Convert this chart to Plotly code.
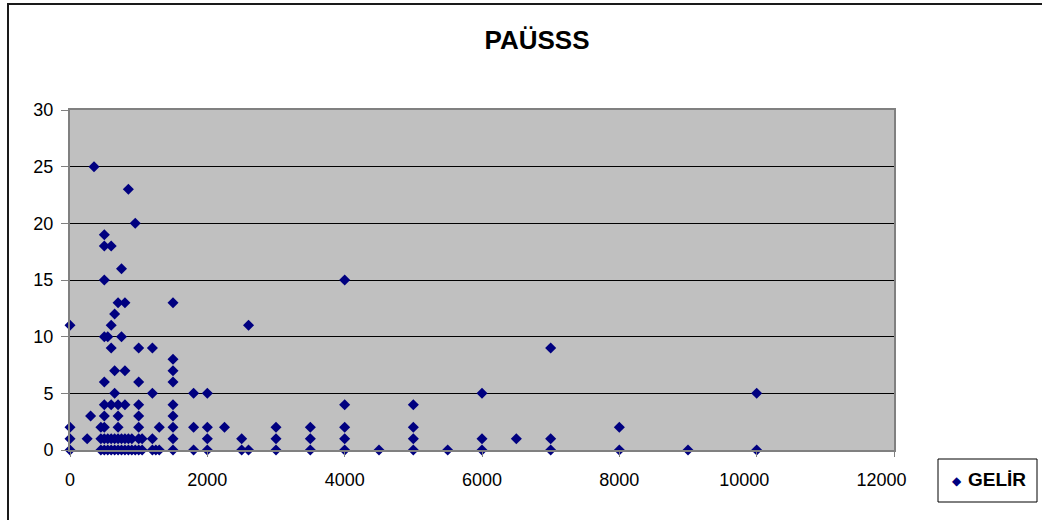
import plotly.graph_objects as go

# GELİR (x) vs PAÜSSS (y) values
gelir = [
    0, 0, 0, 0,
    250, 300, 350,
    450, 450, 450,
    500, 500, 500, 500, 500, 500, 500, 500, 500, 500,
    550, 550, 550,
    600, 600, 600, 600, 600, 600,
    650, 650, 650, 650, 650,
    700, 700, 700, 700, 700, 700,
    750, 750, 750, 750,
    800, 800, 800, 800, 800,
    850, 850, 850,
    900, 900,
    950, 950,
    1000, 1000, 1000, 1000, 1000, 1000, 1000,
    1050, 1050,
    1200, 1200, 1200, 1200,
    1250,
    1300, 1300,
    1500, 1500, 1500, 1500, 1500, 1500, 1500, 1500, 1500,
    1800, 1800, 1800,
    2000, 2000, 2000, 2000,
    2250,
    2500, 2500,
    2600, 2600,
    3000, 3000, 3000,
    3500, 3500, 3500,
    4000, 4000, 4000, 4000, 4000,
    4500,
    5000, 5000, 5000, 5000,
    5500,
    6000, 6000, 6000,
    6500,
    7000, 7000, 7000,
    8000, 8000,
    9000,
    10000, 10000,
]
paususs = [
    0, 1, 2, 11,
    1, 3, 25,
    0, 1, 2,
    0, 1, 2, 3, 4, 6, 10, 15, 18, 19,
    0, 1, 10,
    0, 1, 4, 9, 11, 18,
    0, 1, 5, 7, 12,
    0, 1, 2, 3, 4, 13,
    0, 1, 10, 16,
    0, 1, 4, 7, 13,
    0, 1, 23,
    0, 1,
    0, 20,
    0, 1, 2, 3, 4, 6, 9,
    0, 1,
    0, 1, 5, 9,
    0,
    0, 2,
    0, 1, 2, 3, 4, 6, 7, 8, 13,
    0, 2, 5,
    0, 1, 2, 5,
    2,
    0, 1,
    0, 11,
    0, 1, 2,
    0, 1, 2,
    0, 1, 2, 4, 15,
    0,
    0, 1, 2, 4,
    0,
    0, 1, 5,
    1,
    0, 1, 9,
    0, 2,
    0,
    0, 5,
]

series_name = "GELİR"
chart_title = "PAÜSSS"
x_ticks = [0, 2000, 4000, 6000, 8000, 10000, 12000]
x_labels = ["0", "2000", "4000", "6000", "8000",
            "10000" + "\u00a0" * 5, "12000" + "\u00a0" * 5]
y_ticks = [0, 5, 10, 15, 20, 25, 30]
y_labels = ["0", "5", "10", "15", "20", "25", "30"]

FONT = "Arial, Liberation Sans, sans-serif"
NAVY = "#000080"

W, H = 1042, 520
L, R, T, B = 70, 148, 110, 70
pw, ph = W - L - R, H - T - B

def px_x(p):
    return (p - L) / pw

def px_y(p):
    return (H - B - p) / ph

fig = go.Figure()
fig.add_trace(go.Scatter(
    x=gelir, y=paususs, mode="markers", name=series_name,
    marker=dict(symbol="diamond", size=8.5, color=NAVY, line=dict(width=0)),
    cliponaxis=False, showlegend=False,
))

fig.update_layout(
    width=W, height=H,
    margin=dict(l=L, r=R, t=T, b=B, pad=0, autoexpand=False),
    paper_bgcolor="white",
    plot_bgcolor="#C0C0C0",
    font=dict(family=FONT, size=18, color="black"),
    title=dict(text="<b>" + chart_title + "</b>", x=537 / W, xanchor="center",
               y=1 - 40 / H, yanchor="middle", yref="container",
               font=dict(family=FONT, size=26, color="black")),
    showlegend=False,
    xaxis=dict(range=[0, 12000], tickvals=x_ticks, ticktext=x_labels,
               showgrid=False, zeroline=False, showline=True, linecolor="#808080",
               linewidth=2, mirror=True, ticks="outside", ticklen=5, tickcolor="#808080",
               tickfont=dict(size=18), ticklabelstandoff=7),
    yaxis=dict(range=[0, 30], tickvals=y_ticks, ticktext=y_labels,
               showgrid=True, gridcolor="black", gridwidth=1, zeroline=False,
               showline=True, linecolor="#808080", linewidth=2, mirror=True,
               ticks="outside", ticklen=7, tickcolor="#808080",
               tickfont=dict(size=18), ticklabelstandoff=4),
    shapes=[
        # outer chart frame
        dict(type="rect", xref="paper", yref="paper",
             x0=px_x(8), x1=px_x(1060), y0=px_y(540), y1=px_y(4),
             line=dict(color="#1a1a1a", width=2), fillcolor="rgba(0,0,0,0)",
             layer="above"),
        # legend box
        dict(type="rect", xref="paper", yref="paper",
             x0=px_x(938), x1=px_x(1037), y0=px_y(502), y1=px_y(459),
             line=dict(color="black", width=1), fillcolor="white",
             layer="above"),
    ],
    annotations=[
        dict(xref="paper", yref="paper", x=px_x(957), y=px_y(481),
             xanchor="center", yanchor="middle", showarrow=False,
             text="\u25c6", font=dict(family="DejaVu Sans", size=12, color=NAVY)),
        dict(xref="paper", yref="paper", x=px_x(966), y=px_y(480),
             xanchor="left", yanchor="middle", showarrow=False,
             text="<b>" + series_name + "</b>",
             font=dict(family=FONT, size=19, color="black")),
    ],
)

fig.write_html("out.html")
